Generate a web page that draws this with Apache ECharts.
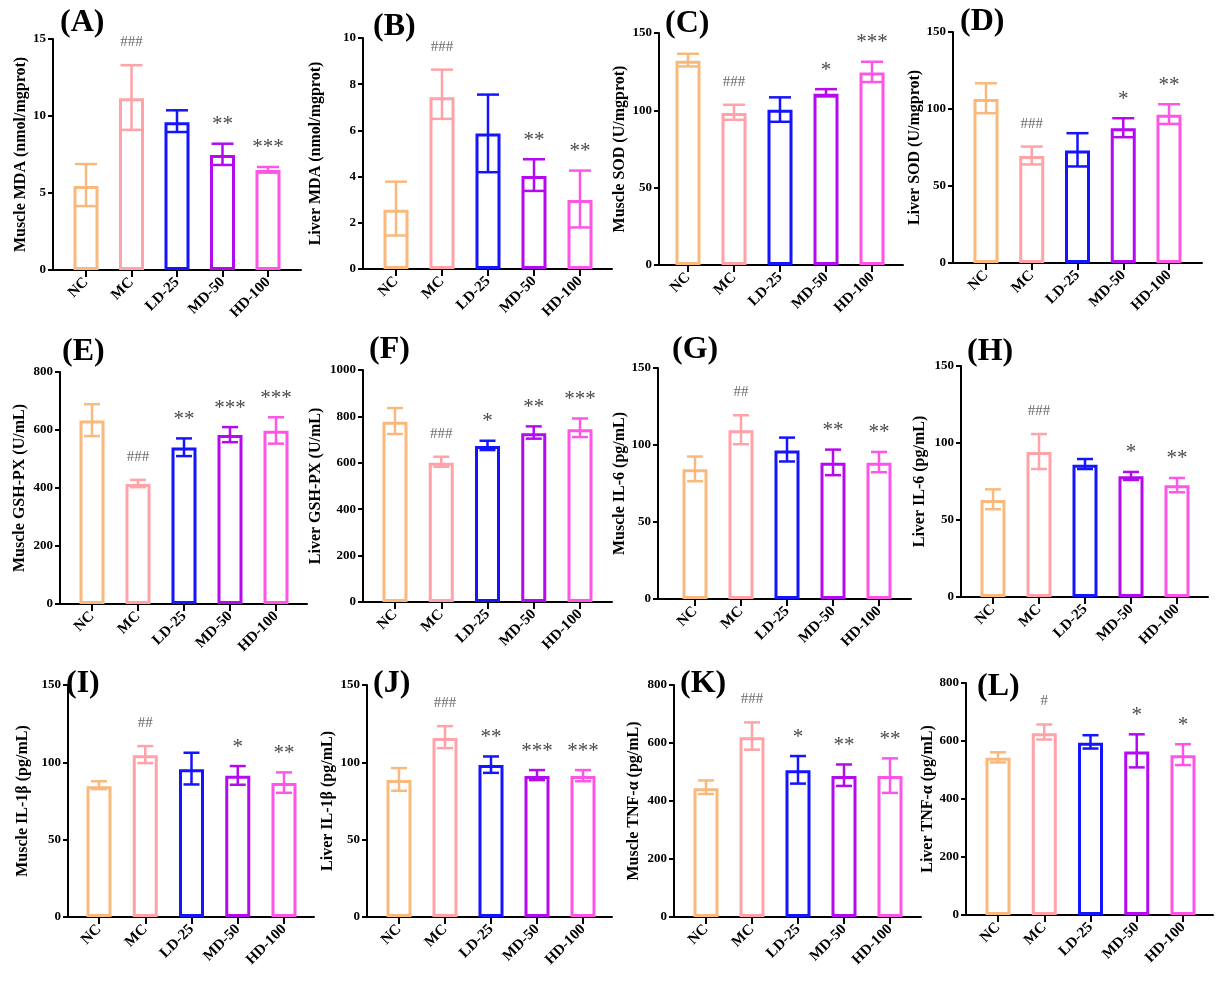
<!DOCTYPE html>
<html>
<head>
<meta charset="utf-8">
<style>
  html, body { margin: 0; padding: 0; background: #fff; }
  #main { width: 1224px; height: 989px; }
</style>
<script src="https://cdn.jsdelivr.net/npm/echarts@6/dist/echarts.min.js"></script>
</head>
<body>
<div id="main"></div>
<script>
// groups on every x axis
var groups = ['NC', 'MC', 'LD-25', 'MD-50', 'HD-100'];
var groupColors = ['#F9B97C', '#FFA3A8', '#1414FF', '#B40AF0', '#FF55E6'];

// (A) muscle MDA
var mdaMuscleMean = [5.45, 11.15, 9.6, 7.47, 6.49];
var mdaMuscleLo = [4.15, 9.1, 8.96, 6.82, 6.32];
var mdaMuscleHi = [6.88, 13.3, 10.37, 8.2, 6.69];
var mdaMuscleSig = ['', '###', '', '**', '***'];
// (B) liver MDA
var mdaLiverMean = [2.56, 7.44, 5.87, 4.03, 2.99];
var mdaLiverLo = [1.45, 6.5, 4.19, 3.38, 1.8];
var mdaLiverHi = [3.78, 8.63, 7.55, 4.75, 4.26];
var mdaLiverSig = ['', '###', '', '**', '**'];
// (C) muscle SOD
var sodMuscleMean = [132.1, 98.2, 100.4, 110.7, 124.5];
var sodMuscleLo = [128.4, 93.9, 92.6, 109.0, 118.3];
var sodMuscleHi = [136.6, 103.6, 108.4, 113.7, 131.4];
var sodMuscleSig = ['', '###', '', '*', '***'];
// (D) liver SOD
var sodLiverMean = [106.5, 69.4, 73.0, 87.5, 96.2];
var sodLiverLo = [97.3, 64.0, 62.7, 81.7, 90.3];
var sodLiverHi = [116.7, 75.6, 84.3, 94.0, 103.1];
var sodLiverSig = ['', '###', '', '*', '**'];
// (E) muscle GSH-PX
var gshMuscleMean = [633, 414, 540, 583, 597];
var gshMuscleLo = [579, 403, 510, 558, 553];
var gshMuscleHi = [689, 428, 571, 610, 644];
var gshMuscleSig = ['', '###', '**', '***', '***'];
// (F) liver GSH-PX
var gshLiverMean = [777, 600, 672, 727, 745];
var gshLiverLo = [724, 583, 655, 704, 711];
var gshLiverHi = [836, 626, 695, 757, 791];
var gshLiverSig = ['', '###', '*', '**', '***'];
// (G) muscle IL-6
var il6MuscleMean = [84.3, 109.6, 96.4, 88.4, 88.4];
var il6MuscleLo = [76.5, 100.5, 89.3, 80.4, 82.3];
var il6MuscleHi = [92.5, 119.3, 104.8, 97.0, 95.5];
var il6MuscleSig = ['', '##', '', '**', '**'];
// (H) liver IL-6
var il6LiverMean = [63.0, 94.1, 85.9, 78.4, 72.5];
var il6LiverLo = [57.0, 83.1, 83.1, 76.0, 68.0];
var il6LiverHi = [69.9, 105.8, 89.6, 81.2, 77.3];
var il6LiverSig = ['', '###', '', '*', '**'];
// (I) muscle IL-1β
var il1MuscleMean = [84.6, 104.5, 95.6, 91.3, 86.6];
var il1MuscleLo = [82.7, 99.5, 85.7, 85.5, 80.3];
var il1MuscleHi = [87.8, 110.5, 106.2, 97.6, 93.5];
var il1MuscleSig = ['', '##', '', '*', '**'];
// (J) liver IL-1β
var il1LiverMean = [88.5, 115.7, 98.2, 91.1, 91.1];
var il1LiverLo = [81.6, 109.2, 93.2, 88.5, 87.8];
var il1LiverHi = [96.3, 123.4, 103.8, 95.0, 95.0];
var il1LiverSig = ['', '###', '**', '***', '***'];
// (K) muscle TNF-α
var tnfMuscleMean = [444, 620, 506, 486, 486];
var tnfMuscleLo = [424, 577, 460, 452, 428];
var tnfMuscleHi = [471, 671, 555, 526, 547];
var tnfMuscleSig = ['', '###', '*', '**', '**'];
// (L) liver TNF-α
var tnfLiverMean = [542, 627, 594, 564, 551];
var tnfLiverLo = [526, 605, 574, 509, 517];
var tnfLiverHi = [561, 657, 620, 623, 589];
var tnfLiverSig = ['', '#', '', '*', '*'];

var panels = [
  {tag: '(A)', name: 'Muscle MDA (nmol/mgprot)', max: 15, step: 5, mean: mdaMuscleMean, lo: mdaMuscleLo, hi: mdaMuscleHi, sig: mdaMuscleSig},
  {tag: '(B)', name: 'Liver MDA (nmol/mgprot)', max: 10, step: 2, mean: mdaLiverMean, lo: mdaLiverLo, hi: mdaLiverHi, sig: mdaLiverSig},
  {tag: '(C)', name: 'Muscle SOD (U/mgprot)', max: 150, step: 50, mean: sodMuscleMean, lo: sodMuscleLo, hi: sodMuscleHi, sig: sodMuscleSig},
  {tag: '(D)', name: 'Liver SOD (U/mgprot)', max: 150, step: 50, mean: sodLiverMean, lo: sodLiverLo, hi: sodLiverHi, sig: sodLiverSig},
  {tag: '(E)', name: 'Muscle GSH-PX (U/mL)', max: 800, step: 200, mean: gshMuscleMean, lo: gshMuscleLo, hi: gshMuscleHi, sig: gshMuscleSig},
  {tag: '(F)', name: 'Liver GSH-PX (U/mL)', max: 1000, step: 200, mean: gshLiverMean, lo: gshLiverLo, hi: gshLiverHi, sig: gshLiverSig},
  {tag: '(G)', name: 'Muscle IL-6 (pg/mL)', max: 150, step: 50, mean: il6MuscleMean, lo: il6MuscleLo, hi: il6MuscleHi, sig: il6MuscleSig},
  {tag: '(H)', name: 'Liver IL-6 (pg/mL)', max: 150, step: 50, mean: il6LiverMean, lo: il6LiverLo, hi: il6LiverHi, sig: il6LiverSig},
  {tag: '(I)', name: 'Muscle IL-1β (pg/mL)', max: 150, step: 50, mean: il1MuscleMean, lo: il1MuscleLo, hi: il1MuscleHi, sig: il1MuscleSig},
  {tag: '(J)', name: 'Liver IL-1β (pg/mL)', max: 150, step: 50, mean: il1LiverMean, lo: il1LiverLo, hi: il1LiverHi, sig: il1LiverSig},
  {tag: '(K)', name: 'Muscle TNF-α (pg/mL)', max: 800, step: 200, mean: tnfMuscleMean, lo: tnfMuscleLo, hi: tnfMuscleHi, sig: tnfMuscleSig},
  {tag: '(L)', name: 'Liver TNF-α (pg/mL)', max: 800, step: 200, mean: tnfLiverMean, lo: tnfLiverLo, hi: tnfLiverHi, sig: tnfLiverSig}
];

// pixel layout: axis left, top, axis right end, bottom, first bar centre, last bar centre,
// panel tag centre x/y, name gap, cap width
var layout = [
  [53, 39, 301, 270, 86, 268, 85, 25, 24, 22],
  [363, 38, 612, 269, 396, 580, 398, 29, 40, 22],
  [659, 33, 903, 265, 688, 872, 690, 26, 32, 22],
  [953, 32, 1202, 263, 986, 1169, 985, 24, 29, 22],
  [60, 372, 307, 604, 92, 276, 87, 354, 33, 16],
  [363, 370, 612, 602, 395, 580, 394, 352, 40, 16],
  [658, 368, 911, 599, 695, 879, 697, 352, 27, 16],
  [961, 366, 1208, 597, 993, 1177, 992, 354, 34, 16],
  [68, 685, 314, 917, 99, 284, 91, 686, 38, 16],
  [367, 685, 612, 917, 399, 583, 398, 686, 32, 16],
  [674, 685, 921, 917, 706, 890, 705, 686, 33, 16],
  [966, 683, 1213, 915, 998, 1183, 1002, 689, 31, 16]
];

var FONT = '"Liberation Serif", "Times New Roman", serif';
var axisLineStyle = {color: '#000', width: 2};

var grids = [], xAxes = [], yAxes = [], series = [], graphics = [];

panels.forEach(function (p, i) {
  var L = layout[i];
  var spacing = (L[5] - L[4]) / 4;
  var cap = L[9];
  grids.push({left: L[0], top: L[1], width: L[2] - L[0], height: L[3] - L[1]});
  xAxes.push({
    type: 'value', gridIndex: i,
    min: -(L[4] - L[0]) / spacing,
    max: 4 + (L[2] - L[5]) / spacing,
    axisLine: {show: true, onZero: false, lineStyle: axisLineStyle},
    axisTick: {show: true, customValues: [0, 1, 2, 3, 4], length: 7, lineStyle: axisLineStyle},
    axisLabel: {
      customValues: [0, 1, 2, 3, 4],
      formatter: function (v) { return groups[Math.round(v)]; },
      rotate: 45, margin: 10,
      fontFamily: FONT, fontWeight: 'bold', fontSize: 15, color: '#000'
    },
    splitLine: {show: false}
  });
  yAxes.push({
    type: 'value', gridIndex: i,
    min: 0, max: p.max, interval: p.step,
    name: p.name, nameLocation: 'middle', nameGap: L[8] - 1,
    nameTextStyle: {fontFamily: FONT, fontWeight: 'bold', fontSize: 16, color: '#000'},
    axisLine: {show: true, onZero: false, lineStyle: axisLineStyle},
    axisTick: {show: true, length: 5, lineStyle: axisLineStyle},
    axisLabel: {
      margin: 7, fontFamily: FONT, fontWeight: 'bold', fontSize: 13, color: '#000',
      formatter: function (v) { return String(v); }
    },
    splitLine: {show: false}
  });
  series.push({
    type: 'bar', xAxisIndex: i, yAxisIndex: i,
    barWidth: 25, silent: true,
    itemStyle: {color: '#fff', borderWidth: 3},
    data: p.mean.map(function (m, j) {
      return {value: [j, m], itemStyle: {borderColor: groupColors[j]}};
    })
  });
  series.push({
    type: 'custom', xAxisIndex: i, yAxisIndex: i, z: 5, silent: true,
    data: p.mean.map(function (m, j) { return [j, p.lo[j], p.hi[j]]; }),
    renderItem: function (params, api) {
      var j = Math.round(api.value(0));
      var top = api.coord([j, api.value(2)]);
      var bot = api.coord([j, api.value(1)]);
      var st = {stroke: groupColors[j], lineWidth: 2.5};
      var h = cap / 2;
      var kids = [
        {type: 'line', shape: {x1: top[0], y1: top[1], x2: bot[0], y2: bot[1]}, style: st},
        {type: 'line', shape: {x1: top[0] - h, y1: top[1], x2: top[0] + h, y2: top[1]}, style: st},
        {type: 'line', shape: {x1: bot[0] - h, y1: bot[1], x2: bot[0] + h, y2: bot[1]}, style: st}
      ];
      var s = p.sig[j];
      if (s) {
        var isHash = s.charAt(0) === '#';
        kids.push({
          type: 'text',
          style: {
            text: s, x: top[0], y: top[1] - (isHash ? 23 : 19),
            align: 'center', verticalAlign: 'middle',
            font: (isHash ? 'normal 15px ' : 'normal 21px ') + FONT,
            fill: isHash ? '#6a6a6a' : '#4a4a4a'
          }
        });
      }
      return {type: 'group', children: kids};
    }
  });
  graphics.push({
    type: 'text', left: L[6] - 25, top: L[7] - 18,
    style: {text: p.tag, font: 'bold 32px ' + FONT, fill: '#000'}
  });
});

var chart = echarts.init(document.getElementById('main'), null, {renderer: 'canvas'});
chart.setOption({
  backgroundColor: '#fff',
  animation: false,
  grid: grids,
  xAxis: xAxes,
  yAxis: yAxes,
  series: series,
  graphic: graphics
});
</script>
</body>
</html>
